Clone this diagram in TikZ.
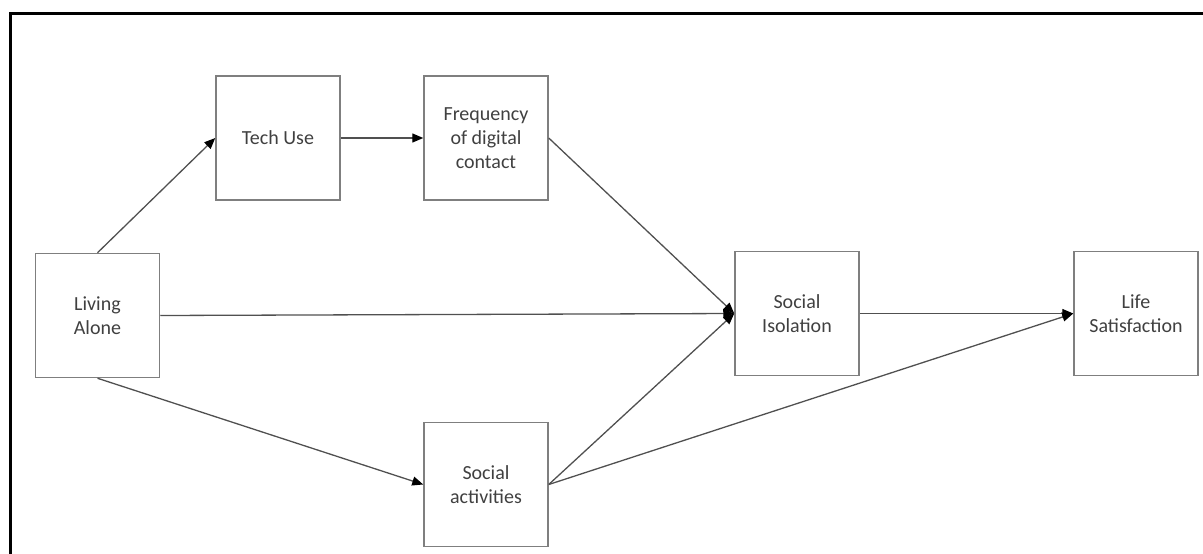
\documentclass[tikz,border=0pt]{standalone}
\usepackage{fontspec}
\setmainfont{Carlito}
\usetikzlibrary{arrows.meta}
\definecolor{boxgray}{HTML}{7F7F7F}
\definecolor{txtgray}{HTML}{404040}
\definecolor{linegray}{HTML}{505050}
\begin{document}
\begin{tikzpicture}[x=1pt,y=-1pt,
  varbox/.style={draw=boxgray,line width=1.5pt,minimum width=124pt,minimum height=124pt,
    align=center,text=txtgray,font=\fontsize{20}{24}\selectfont,inner sep=0pt},
  conn/.style={draw=linegray,line width=1.3pt,-{Triangle[length=11pt,width=9pt,color=black]}}]
\useasboundingbox (0,0) rectangle (1203,554);
\draw[line width=3pt] (10,554) coordinate (fa) -- (10,13) coordinate (fb) -- (1203,13) coordinate (fc);
\node[varbox] (la) at (97.5,315.5) {Living\\Alone};
\node[varbox] (tu) at (278,138) {Tech Use};
\node[varbox] (fd) at (486,138) {Frequency\\of digital\\contact};
\node[varbox] (si) at (797,313.5) {Social\\Isolation};
\node[varbox] (sa) at (486,484.5) {Social\\activities};
\node[varbox] (ls) at (1136,313.5) {Life\\Satisfaction};
\draw[conn] (la.north) -- (tu.west);
\draw[conn] (tu.east) -- (fd.west);
\draw[conn] (fd.east) -- (si.west);
\draw[conn] (la.east) -- (si.west);
\draw[conn] (la.south) -- (sa.west);
\draw[conn] (sa.east) -- (si.west);
\draw[conn] (si.east) -- (ls.west);
\draw[conn] (sa.east) -- (ls.west);
\end{tikzpicture}
\end{document}
